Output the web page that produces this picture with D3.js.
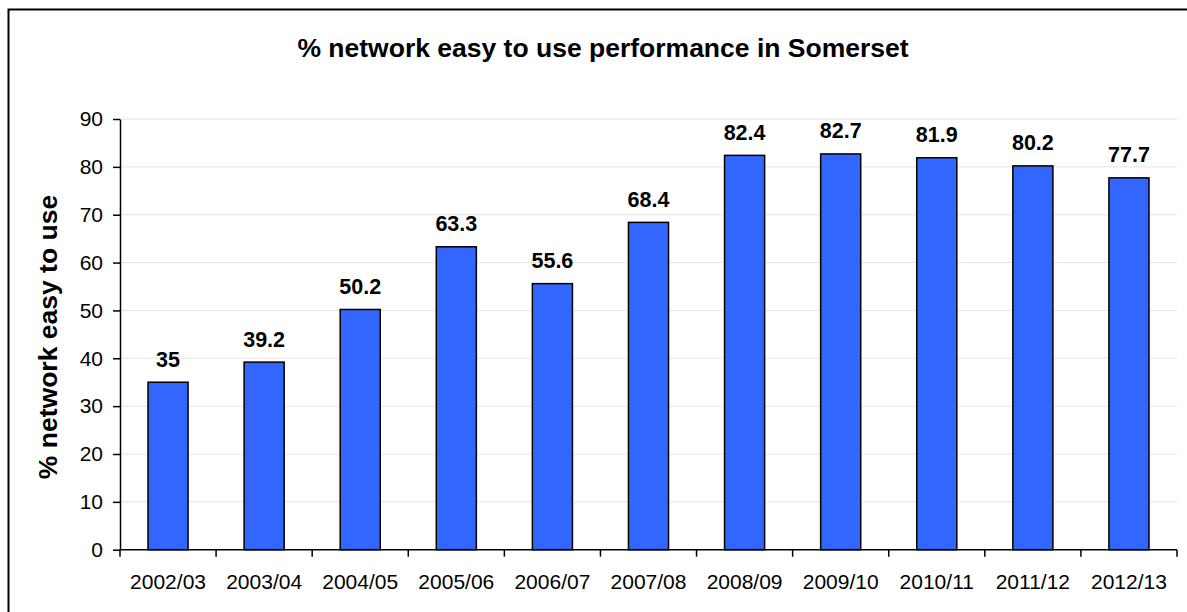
<!DOCTYPE html>
<html>
<head>
<meta charset="utf-8">
<script src="https://cdn.jsdelivr.net/npm/d3@7"></script>
<style>
  body { margin: 0; background: #fff; }
  text { font-family: Arial, "Liberation Sans", sans-serif; }
</style>
</head>
<body>
<svg id="chart" width="1187" height="612"></svg>
<script>
const categories = ["2002/03","2003/04","2004/05","2005/06","2006/07","2007/08","2008/09","2009/10","2010/11","2011/12","2012/13"];
const values = [35, 39.2, 50.2, 63.3, 55.6, 68.4, 82.4, 82.7, 81.9, 80.2, 77.7];
const yTicks = [0,10,20,30,40,50,60,70,80,90];
const titleText = "% network easy to use performance in Somerset";
const yTitle = "% network easy to use";

(function () {
const svg = d3.select("#chart");
const pLeft = 120, pRight = 1177, pTop = 119, pBottom = 549.7;

svg.append("rect").attr("x", 8.5).attr("y", 9.5).attr("width", 1200).attr("height", 620)
  .attr("fill", "#fff").attr("stroke", "#000").attr("stroke-width", 2);

const x = d3.scaleBand().domain(categories).range([pLeft, pRight]).padding(0);
const y = d3.scaleLinear().domain([0, 90]).range([pBottom, pTop]);

// gridlines
svg.append("g").selectAll("line").data(yTicks.filter(d => d > 0)).join("line")
  .attr("x1", pLeft).attr("x2", pRight)
  .attr("y1", d => y(d)).attr("y2", d => y(d))
  .attr("stroke", "#e3e3e3").attr("stroke-width", 1);

// bars
const barW = x.bandwidth() * 0.417;
svg.append("g").selectAll("rect").data(values).join("rect")
  .attr("x", (d, i) => x(categories[i]) + (x.bandwidth() - barW) / 2)
  .attr("y", d => y(d))
  .attr("width", barW)
  .attr("height", d => y(0) - y(d))
  .attr("fill", "#3366ff").attr("stroke", "#000").attr("stroke-width", 1.5);

// value labels
svg.append("g").selectAll("text").data(values).join("text")
  .attr("x", (d, i) => x(categories[i]) + x.bandwidth() / 2)
  .attr("y", d => y(d) - 15.5)
  .attr("text-anchor", "middle")
  .attr("font-size", "21.5px").attr("font-weight", "bold")
  .text(d => d);

// y axis
const yAxis = svg.append("g").attr("transform", `translate(${pLeft},0)`)
  .call(d3.axisLeft(y).tickValues(yTicks).tickSize(7).tickPadding(10).tickSizeOuter(0));
yAxis.select(".domain").attr("stroke", "#000").attr("stroke-width", 1.5);
yAxis.selectAll(".tick line").attr("stroke", "#000").attr("stroke-width", 1.5);
yAxis.selectAll(".tick text").attr("font-size", "21px").attr("font-family", "Arial, 'Liberation Sans', sans-serif").attr("fill", "#000");

// x axis
const xTickScale = d3.scaleLinear().domain([0, categories.length]).range([pLeft, pRight]);
const xAxis = svg.append("g").attr("transform", `translate(0,${pBottom})`);
xAxis.append("line").attr("x1", pLeft).attr("x2", pRight).attr("stroke", "#000").attr("stroke-width", 1.5);
xAxis.selectAll("line.tk").data(d3.range(categories.length + 1)).join("line").attr("class", "tk")
  .attr("x1", d => xTickScale(d)).attr("x2", d => xTickScale(d))
  .attr("y1", 0).attr("y2", 7).attr("stroke", "#000").attr("stroke-width", 1.5);
xAxis.selectAll("text").data(categories).join("text")
  .attr("x", d => x(d) + x.bandwidth() / 2)
  .attr("y", 39.5)
  .attr("text-anchor", "middle").attr("font-size", "21px")
  .text(d => d);

// title
svg.append("text").attr("x", 603).attr("y", 57).attr("text-anchor", "middle")
  .attr("font-size", "26.5px").attr("font-weight", "bold").text(titleText);

// y title
svg.append("text").attr("transform", "translate(57,337) rotate(-90)")
  .attr("text-anchor", "middle").attr("font-size", "26.5px").attr("font-weight", "bold")
  .text(yTitle);
})();
</script>
</body>
</html>
